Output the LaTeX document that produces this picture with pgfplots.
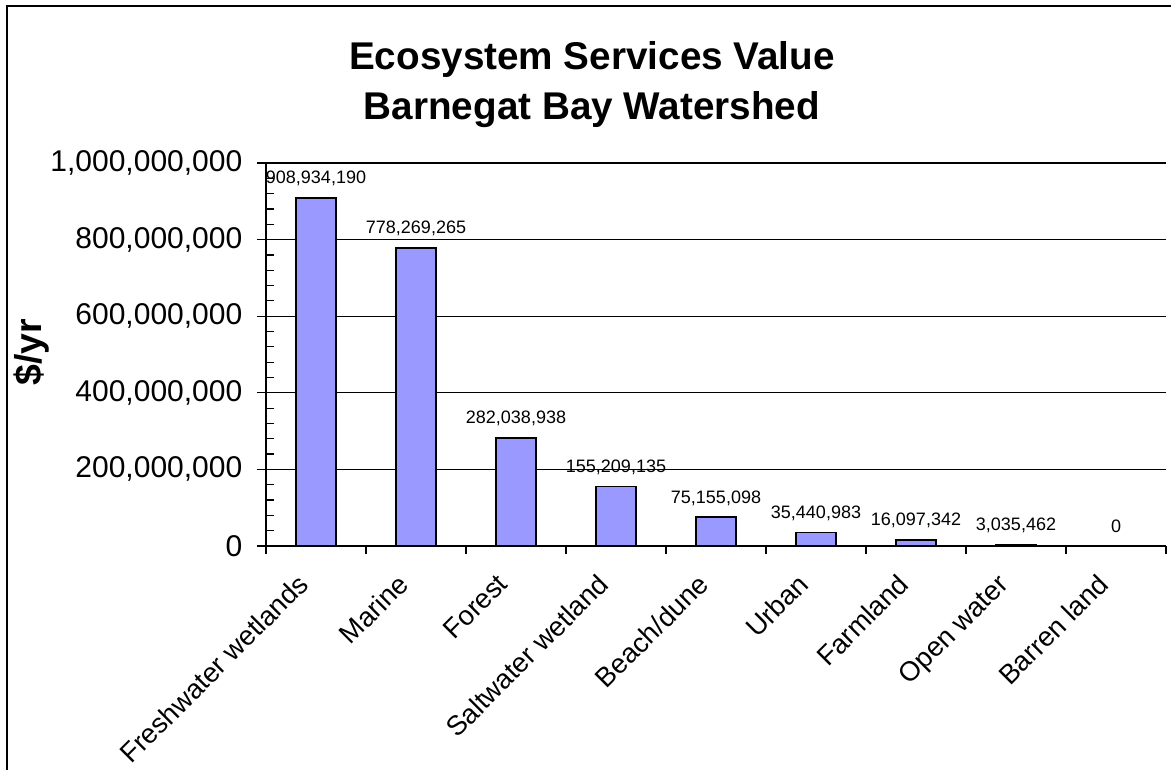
\documentclass[border=0pt]{standalone}
\usepackage{pgfplots}
\usepackage{pgfplotstable}
\pgfplotsset{compat=1.18}
\usepackage{fontspec}
\setmainfont{Liberation Sans}
\definecolor{barblue}{RGB}{153,153,255}

% value per land cover class, $/yr
\pgfplotstableread{
idx value label
0 908934190 908,934,190
1 778269265 778,269,265
2 282038938 282,038,938
3 155209135 155,209,135
4 75155098 75,155,098
5 35440983 35,440,983
6 16097342 16,097,342
7 3035462 3,035,462
8 0 0
}\servicestable

\begin{document}
\begin{tikzpicture}[x=0.75pt,y=0.75pt]
\useasboundingbox (0,0) rectangle (1171,769);
\draw[line width=1.5pt] (7,-10) -- (7,763) -- (1190,763);
\node[anchor=base, font=\fontsize{29}{35}\selectfont\bfseries] at (592,699) {Ecosystem Services Value};
\node[anchor=base, font=\fontsize{29}{35}\selectfont\bfseries] at (592,649) {Barnegat Bay Watershed};
\node[rotate=90, font=\fontsize{28}{34}\selectfont\bfseries] at (32,417) {\$/yr};
\begin{axis}[
    at={(199.5pt,167.25pt)}, anchor=south west,
    scale only axis, width=675pt, height=287.25pt,
    ybar, bar width=30pt,
    xmin=-0.5, xmax=8.5, ymin=0, ymax=1e9,
    enlargelimits=false, clip=false,
    scaled y ticks=false,
    axis x line*=bottom, axis y line*=left,
    axis line style={-, line width=0.9pt},
    xtick={0,...,8},
    xticklabels={Freshwater wetlands, Marine, Forest, Saltwater wetland, Beach/dune, Urban, Farmland, Open water, Barren land},
    minor xtick={-0.5,0.5,...,8.5},
    major x tick style={draw=none},
    xticklabel style={xshift=-15pt, yshift=-8pt, rotate=45, anchor=north east, font=\fontsize{20.5}{25}\selectfont},
    ytick={0,2e8,4e8,6e8,8e8,1e9},
    yticklabels={0,{200,000,000},{400,000,000},{600,000,000},{800,000,000},{1,000,000,000}},
    yticklabel style={xshift=-7.5pt, font=\fontsize{22.5}{27}\selectfont},
    minor y tick num=4,
    minor y tick style={xshift=6pt},
    tick align=outside,
    major tick length=6.75pt, minor tick length=6pt,
    tick style={black, line width=0.9pt},
    ymajorgrids,
    major grid style={black, line width=0.9pt},
    point meta=explicit symbolic,
    nodes near coords={\pgfplotspointmeta},
    every node near coord/.append style={anchor=base, inner sep=0pt, yshift=10.5pt, font=\fontsize{13.5}{16}\selectfont, black},
]
\addplot[fill=barblue, draw=black, line width=1.1pt] table[x=idx, y=value, meta=label] {\servicestable};
\end{axis}
\end{tikzpicture}
\end{document}
